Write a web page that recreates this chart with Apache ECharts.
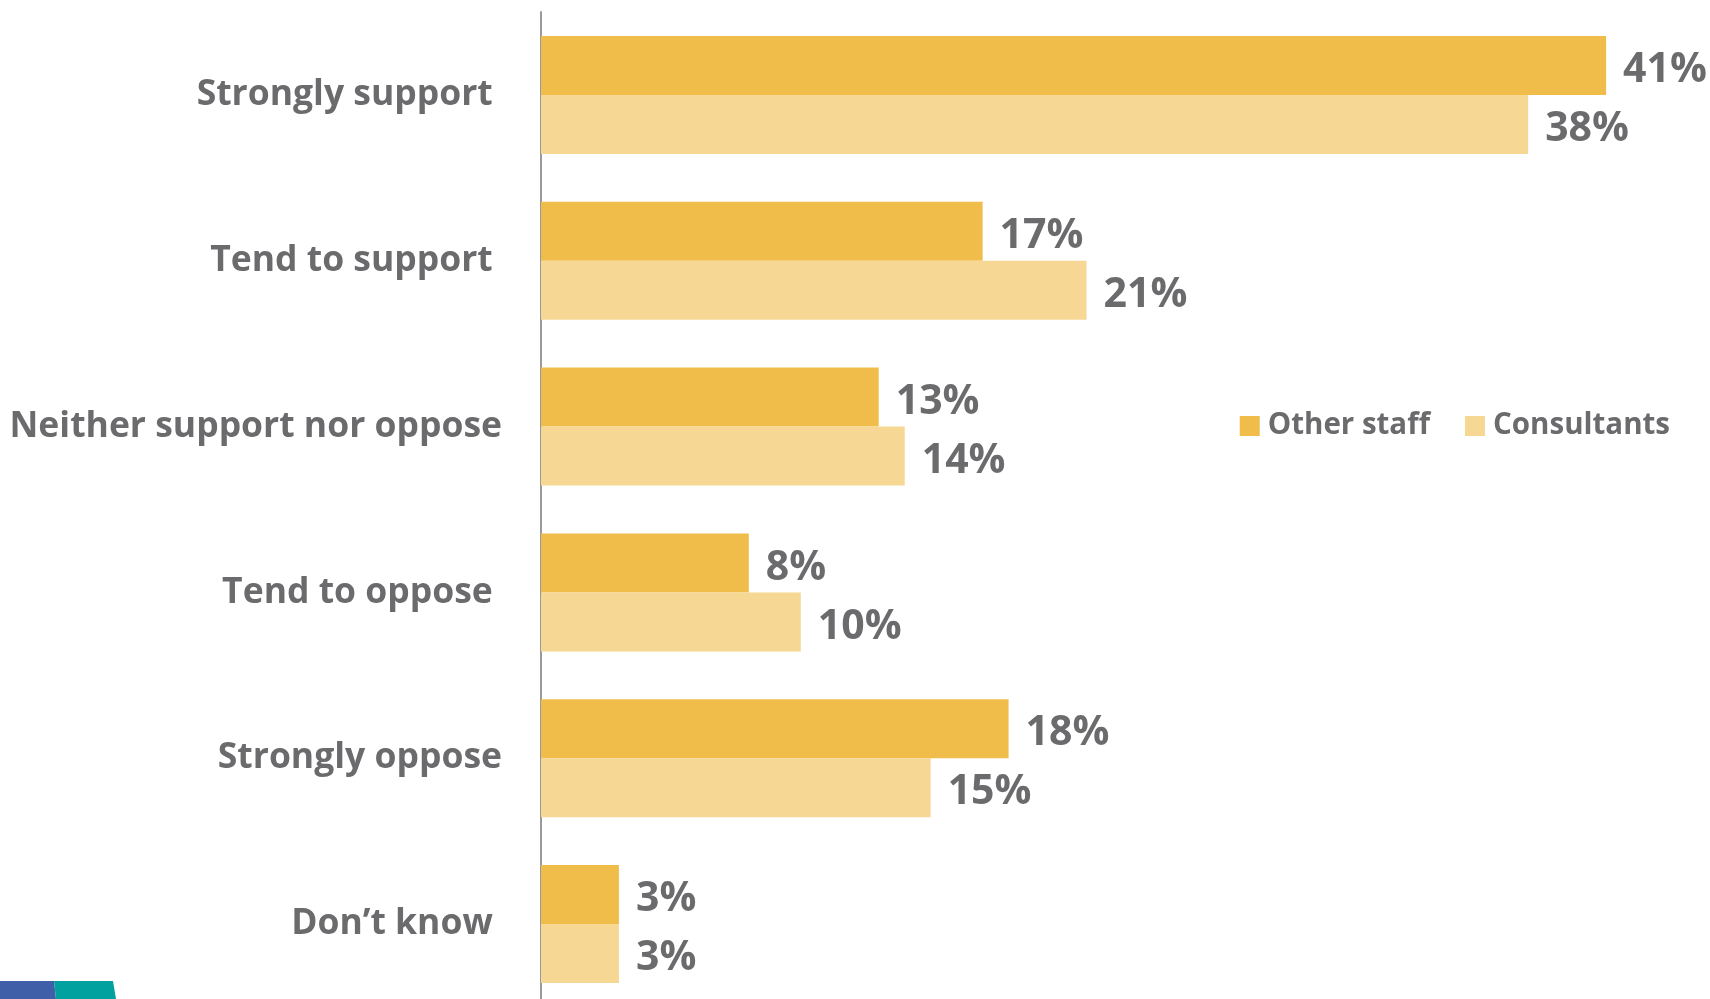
<!DOCTYPE html>
<html>
<head>
<meta charset="utf-8">
<script src="https://cdn.jsdelivr.net/npm/echarts@6/dist/echarts.min.js"></script>
<style>
html,body{margin:0;padding:0;background:#fff;overflow:hidden;}
#c{width:1710px;height:1012px;}
</style>
</head>
<body>
<div id="c"></div>
<script>
const categories = ["Strongly support ", "Tend to support ", "Neither support nor oppose", "Tend to oppose ", "Strongly oppose", "Don\u2019t know "];
const otherStaff = [41, 17, 13, 8, 18, 3];
const consultants = [38, 21, 14, 10, 15, 3];
const seriesNames = ["Other staff", "Consultants"];

const textColor = "#6b6b6d";
const font = "'Open Sans', 'Noto Sans', sans-serif";

const chart = echarts.init(document.getElementById('c'));
chart.setOption({
  backgroundColor: '#ffffff',
  animation: false,
  grid: { left: 541, top: 12, width: 1170, height: 995, containLabel: false },
  legend: {
    data: seriesNames,
    right: 35,
    top: 406,
    itemWidth: 20,
    itemHeight: 20,
    itemGap: 35,
    icon: 'rect',
    textStyle: { color: textColor, fontFamily: font, fontWeight: 'bold', fontSize: 29.5, padding: [2, 0, 0, 3] }
  },
  xAxis: {
    type: 'value', min: 0, max: 45, show: false
  },
  yAxis: {
    type: 'category',
    data: categories,
    inverse: true,
    axisLine: { show: true, lineStyle: { color: '#9a9a9a', width: 2 } },
    axisTick: { show: false },
    axisLabel: { color: textColor, fontFamily: font, fontWeight: 'bold', fontSize: 35.5, margin: 39, padding: [10, 0, 0, 0] },
    splitLine: { show: false }
  },
  series: [
    {
      name: seriesNames[0], type: 'bar', data: otherStaff, barWidth: 59, barGap: '0%',
      itemStyle: { color: '#F0BD4A' },
      label: { show: true, position: 'right', distance: 17, offset: [0, 5], formatter: '{c}%', color: textColor, fontFamily: font, fontWeight: 'bold', fontSize: 41 }
    },
    {
      name: seriesNames[1], type: 'bar', data: consultants, barWidth: 59, barGap: '0%',
      itemStyle: { color: '#F6D794' },
      label: { show: true, position: 'right', distance: 17, offset: [0, 5], formatter: '{c}%', color: textColor, fontFamily: font, fontWeight: 'bold', fontSize: 41 }
    }
  ],
  graphic: [
    { type: 'polygon', shape: { points: [[0, 981], [54, 981], [56, 999], [0, 999]] }, style: { fill: '#3F5FA8' } },
    { type: 'polygon', shape: { points: [[54, 981], [113, 981], [116, 999], [56, 999]] }, style: { fill: '#00A19E' } }
  ]
});
</script>
</body>
</html>
